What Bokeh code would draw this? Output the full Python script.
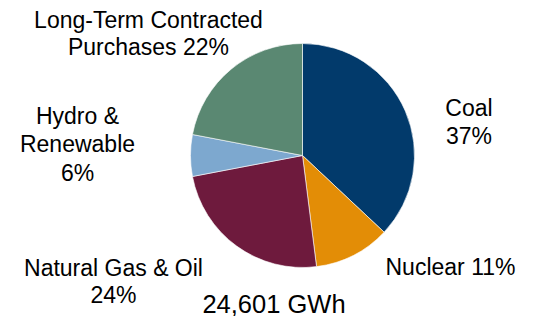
import numpy as np
from bokeh.plotting import figure
from bokeh.models import Range1d, ColumnDataSource
from bokeh.core.properties import value
from bokeh.embed import file_html
from bokeh.resources import INLINE

# ---- data ----
categories = ["Coal", "Nuclear", "Natural Gas & Oil", "Hydro & Renewable", "Long-Term Contracted Purchases"]
shares = [37, 11, 24, 6, 22]
colors = ["#023A6B", "#E38D06", "#6E1A3D", "#7DA8CF", "#5A8872"]
label_lines = [["Coal", "37%"], ["Nuclear 11%"], ["Natural Gas & Oil", "24%"],
               ["Hydro &", "Renewable", "6%"], ["Long-Term Contracted", "Purchases 22%"]]
total_label = "24,601 GWh"

# ---- layout (page pixel coords) ----
W, H = 543, 316
cx, cy, r = 302, 155, 112
TOFF = -8
label_pos = [(468.5, 115, 28), (450, 274, 28), (113, 275, 27), (77, 123, 28.5), (148, 27, 27)]
total_pos = (273.5, 311)

def Y(py):
    return H - py

p = figure(width=W, height=H, output_backend="svg", toolbar_location=None,
           x_range=Range1d(0, W), y_range=Range1d(0, H),
           min_border=0)
p.axis.visible = False
p.grid.visible = False
p.outline_line_color = None
p.background_fill_color = "white"
p.border_fill_color = "white"

frac = np.array(shares, dtype=float) / sum(shares)
cum = np.concatenate([[0], np.cumsum(frac)])
start = np.pi / 2 - 2 * np.pi * cum[:-1]
end = np.pi / 2 - 2 * np.pi * cum[1:]

src = ColumnDataSource(dict(start=start, end=end, color=colors, cat=categories))
p.wedge(x=cx, y=Y(cy), radius=r, start_angle="start", end_angle="end",
        direction="clock", fill_color="color", line_color="white", line_width=0.6, source=src)

xs, ys, ts = [], [], []
for lines, (lx, ly, sp) in zip(label_lines, label_pos):
    for i, t in enumerate(lines):
        xs.append(lx)
        ys.append(Y(ly + i * sp + TOFF))
        ts.append(t)
p.text(x=xs, y=ys, text=ts, text_align="center", text_baseline="alphabetic",
       text_font=value("Liberation Sans"), text_font_size="23px", text_color="#000000")

p.text(x=[total_pos[0]], y=[Y(total_pos[1] + TOFF)], text=[total_label], text_align="center",
       text_baseline="alphabetic", text_font=value("Liberation Sans"),
       text_font_size="25.5px", text_color="#000000")

open("out.html", "w").write(file_html(p, INLINE))
